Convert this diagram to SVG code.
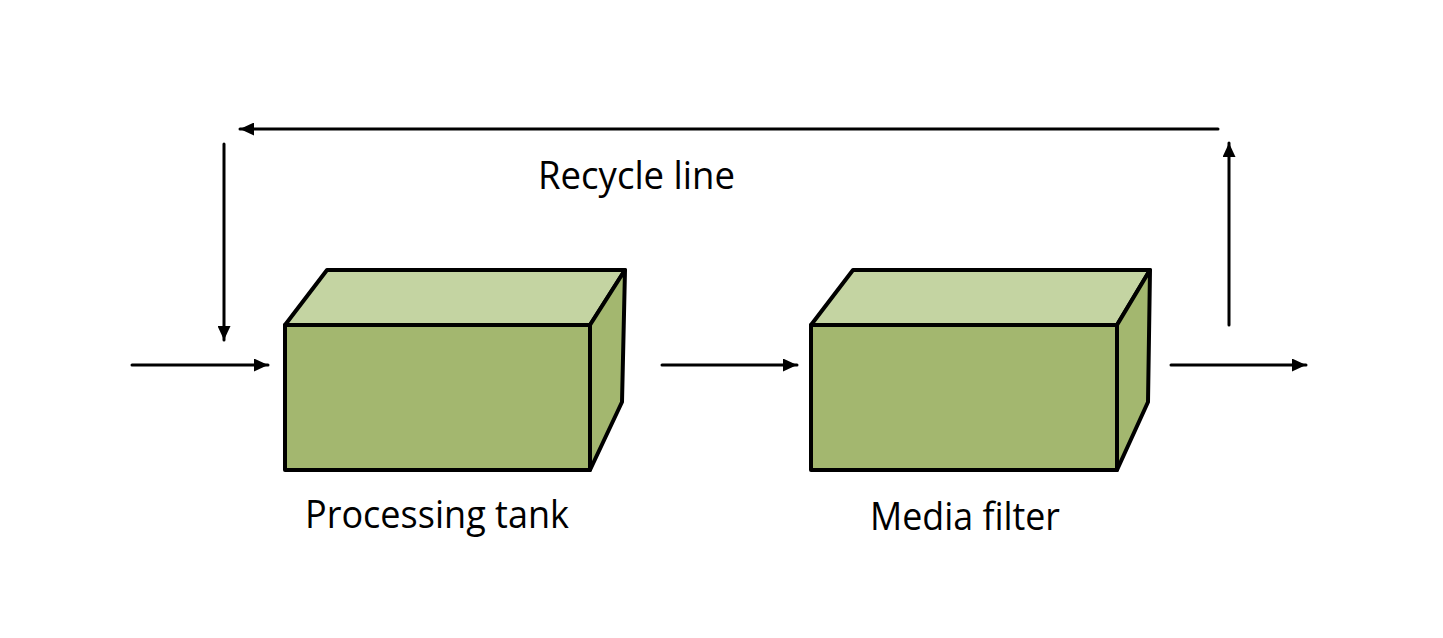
<svg xmlns="http://www.w3.org/2000/svg" width="1443" height="638" viewBox="0 0 1443 638">
<style>
.front{fill:#a3b76f;stroke:#000;stroke-width:4;stroke-linejoin:round}
.top{fill:#c4d4a2;stroke:#000;stroke-width:4;stroke-linejoin:round}
.side{fill:#a3b76f;stroke:#000;stroke-width:4;stroke-linejoin:round}
.conn{stroke:#000;stroke-width:3;fill:none;stroke-linecap:round}
.lbl{font-family:"Open Sans","Liberation Sans",sans-serif;font-size:39px;fill:#000}
</style>
<defs>
<marker id="ah" viewBox="0 0 14 13" refX="14" refY="6.5" markerWidth="14" markerHeight="13" markerUnits="userSpaceOnUse" orient="auto">
<path d="M0,0 L14,6.5 L0,13 Z" fill="#000"/>
</marker>
</defs>
<rect width="1443" height="638" fill="#fff"/>
<g id="processing-tank">
<polygon class="top" points="285,325 327,270 625,270 590,325"/>
<polygon class="side" points="590,325 625,270 622,402 590,470"/>
<rect class="front" x="285" y="325" width="305" height="145"/>
<text class="lbl" x="305" y="528" textLength="264" lengthAdjust="spacingAndGlyphs">Processing tank</text>
</g>
<g id="media-filter">
<polygon class="top" points="811,325 853,270 1150,270 1117,325"/>
<polygon class="side" points="1117,325 1150,270 1148,402 1117,470"/>
<rect class="front" x="811" y="325" width="306" height="145"/>
<text class="lbl" x="870" y="530" textLength="190" lengthAdjust="spacingAndGlyphs">Media filter</text>
</g>
<g id="recycle-label">
<text class="lbl" x="538" y="189" textLength="197" lengthAdjust="spacingAndGlyphs">Recycle line</text>
</g>
<g id="connectors">
<line class="conn" x1="132" y1="365" x2="268" y2="365" marker-end="url(#ah)"/>
<line class="conn" x1="662" y1="365" x2="797" y2="365" marker-end="url(#ah)"/>
<line class="conn" x1="1171" y1="365" x2="1306" y2="365" marker-end="url(#ah)"/>
<line class="conn" x1="1229" y1="325" x2="1229" y2="143" marker-end="url(#ah)"/>
<line class="conn" x1="1218" y1="129" x2="240" y2="129" marker-end="url(#ah)"/>
<line class="conn" x1="224" y1="144" x2="224" y2="340" marker-end="url(#ah)"/>
</g>
</svg>
